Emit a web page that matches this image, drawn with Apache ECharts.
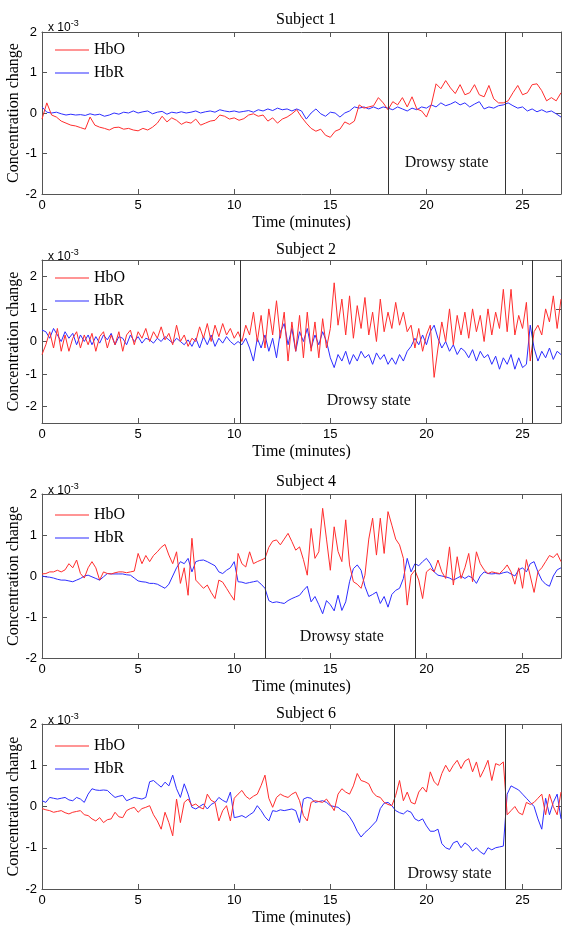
<!DOCTYPE html>
<html><head><meta charset="utf-8">
<script src="https://cdn.jsdelivr.net/npm/echarts@6/dist/echarts.min.js"></script>
<style>html,body{margin:0;padding:0;background:#fff}#c{width:572px;height:936px}</style>
</head><body><div id="c"></div>
<script>
// ---- Data (concentration change, units of 1e-3), sampled every STEP minutes ----
const step1 = 0.25;
const s1_hbo = [-0.15,0.25,-0.05,-0.1,-0.2,-0.25,-0.3,-0.32,-0.36,-0.4,-0.1,-0.3,-0.35,-0.38,-0.42,-0.36,-0.35,-0.4,-0.38,-0.42,-0.44,-0.38,-0.42,-0.35,-0.25,-0.08,-0.22,-0.12,-0.18,-0.28,-0.22,-0.25,-0.15,-0.3,-0.25,-0.2,-0.18,-0.05,-0.08,-0.15,-0.12,-0.18,-0.14,-0.05,-0.02,-0.08,-0.05,-0.2,-0.12,-0.25,-0.15,-0.1,-0.02,0.08,-0.1,-0.25,-0.38,-0.45,-0.4,-0.55,-0.6,-0.45,-0.4,-0.22,-0.28,-0.2,0.2,0.12,0.15,0.18,0.38,0.25,0.08,0.28,0.2,0.38,0.15,0.4,0.1,0.05,-0.1,0.2,0.72,0.6,0.8,0.62,0.48,0.7,0.45,0.5,0.7,0.45,0.4,0.68,0.35,0.25,0.25,0.3,0.5,0.68,0.45,0.5,0.7,0.72,0.55,0.3,0.38,0.3,0.5];
const s1_hbr = [0.15,0.02,0.0,0.02,-0.02,-0.05,-0.03,-0.05,-0.04,-0.06,-0.02,-0.05,-0.03,-0.08,-0.05,0.0,-0.03,0.02,0.0,0.05,0.0,0.03,0.05,-0.02,0.02,0.04,-0.03,0.02,0.0,0.03,0.0,0.02,0.05,0.0,0.03,0.05,0.02,0.08,0.05,0.03,0.05,0.02,0.04,0.06,0.02,0.08,0.05,0.1,0.06,0.12,0.08,0.1,0.05,0.1,0.05,-0.15,0.0,0.1,-0.02,-0.08,0.02,0.0,-0.1,0.0,0.05,0.15,0.12,0.15,0.1,0.15,0.1,0.15,0.12,0.08,0.15,0.1,0.05,0.12,0.08,0.15,0.12,0.2,0.15,0.25,0.18,0.22,0.28,0.2,0.25,0.15,0.22,0.28,0.1,0.15,0.12,0.18,0.2,0.25,0.18,0.12,0.15,0.05,0.1,0.03,0.08,0.02,0.05,-0.02,-0.1];

const step2 = 0.2;
const s2_hbo = [-0.4,-0.1,0.3,-0.2,0.4,-0.3,0.2,-0.3,0.1,0.3,-0.2,
 0.2,-0.1,0.25,-0.3,0.15,0.3,-0.2,0.2,-0.1,0.3,
 -0.3,0.2,0.35,-0.1,0.3,0.1,0.4,0.0,0.3,0.1,
 0.45,0.05,0.25,-0.1,0.5,0.0,0.2,-0.15,0.1,0.0,
 0.45,0.1,0.55,0.0,0.5,0.15,0.55,0.2,0.4,0.1,
 0.3,0.0,0.5,0.2,0.9,0.0,0.8,-0.2,1.0,0.2,
 1.25,0.1,0.9,-0.6,0.6,-0.3,0.8,-0.5,0.9,-0.3,
 0.6,-0.5,0.7,-0.2,0.4,1.8,0.5,1.3,0.2,1.4,
 0.1,1.1,0.4,1.35,0.2,0.9,0.0,1.3,0.3,0.9,
 0.4,1.2,0.5,0.9,0.3,0.5,-0.2,0.4,-0.3,0.2,
 0.5,-1.1,-0.2,0.6,0.0,1.0,-0.1,0.8,0.2,0.9,
 0.1,1.0,0.3,0.8,0.0,1.0,0.2,0.9,0.4,1.6,
 0.3,1.6,0.2,0.8,0.4,1.2,-0.6,0.3,0.5,0.2,
 1.0,0.6,1.4,0.4,1.3];
const s2_hbr = [0.35,0.3,0.1,0.4,0.2,0.0,0.3,0.1,0.25,-0.1,0.2,
 0.0,0.2,-0.1,0.15,-0.05,0.2,0.05,0.25,-0.1,0.15,
 0.1,-0.1,0.2,0.0,0.15,-0.05,0.1,0.05,-0.05,0.1,
 0.0,0.15,0.05,-0.05,0.1,0.0,-0.1,0.05,-0.15,0.1,
 -0.2,0.15,-0.1,0.2,-0.15,0.1,-0.05,0.15,0.0,-0.1,
 0.0,-0.1,0.1,-0.2,-0.6,0.1,-0.2,0.2,-0.3,0.1,
 -0.5,0.3,0.55,-0.1,0.4,-0.3,0.3,0.0,0.4,-0.2,
 0.2,-0.1,0.3,0.0,-0.5,-0.8,-0.4,-0.6,-0.3,-0.7,
 -0.4,-0.6,-0.3,-0.5,-0.4,-0.7,-0.35,-0.55,-0.4,-0.7,
 -0.5,-0.7,-0.4,-0.6,-0.3,-0.15,0.1,-0.1,0.2,-0.1,
 0.3,0.5,0.1,-0.2,0.0,-0.3,-0.1,-0.4,-0.2,-0.3,
 -0.5,-0.25,-0.6,-0.3,-0.5,-0.4,-0.7,-0.45,-0.85,-0.5,
 -0.7,-0.4,-0.85,-0.5,-0.8,-0.7,0.5,-0.2,-0.6,-0.3,
 -0.5,-0.2,-0.55,-0.3,-0.4];

const step3 = 0.2;
const s4_hbo = [0.05,0.06,0.1,0.1,0.14,0.1,0.15,0.3,0.2,0.39,0.06,
 -0.05,0.2,0.35,0.2,-0.1,0.1,0.06,0.05,0.08,0.1,
 0.1,0.08,0.1,0.12,0.55,0.3,0.5,0.35,0.5,0.59,
 0.7,0.77,0.51,0.3,0.59,-0.18,0.2,-0.47,0.92,-0.1,
 -0.2,-0.3,-0.22,-0.4,-0.55,-0.1,-0.15,-0.3,-0.45,-0.59,
 0.55,0.3,0.22,0.59,0.3,0.35,0.39,0.43,0.7,0.85,
 0.88,0.76,0.9,1.04,0.84,0.63,0.71,0.4,0.02,1.16,
 0.43,0.59,1.65,0.9,0.14,1.2,0.6,0.35,1.37,0.27,
 -0.14,-0.2,-0.3,0.02,0.9,1.41,0.51,1.41,0.55,1.57,
 1.24,0.9,0.76,0.43,-0.71,0.02,0.14,-0.1,-0.55,0.1,
 0.18,0.1,0.39,0.1,-0.06,0.71,-0.22,0.47,-0.06,0.2,
 0.55,-0.14,0.59,0.3,0.15,0.06,0.1,0.08,0.06,0.15,
 0.27,0.1,-0.2,0.2,-0.3,0.4,0.0,-0.4,0.1,0.2,
 0.35,0.5,0.45,0.55,0.35];
const s4_hbr = [0.0,-0.02,-0.03,-0.05,-0.08,-0.1,-0.1,-0.12,-0.14,-0.1,-0.06,
 0.0,0.02,-0.02,-0.06,-0.1,-0.02,0.06,0.05,0.05,0.05,
 0.05,0.03,0.02,-0.05,-0.12,-0.14,-0.15,-0.18,-0.18,-0.2,
 -0.25,-0.3,-0.2,0.0,0.2,0.35,0.3,0.43,0.1,0.35,
 0.38,0.39,0.35,0.3,0.25,0.1,0.06,0.14,0.2,0.35,
 -0.14,-0.15,-0.18,-0.16,-0.14,-0.12,-0.2,-0.3,-0.6,-0.65,
 -0.63,-0.65,-0.67,-0.6,-0.55,-0.51,-0.47,-0.35,-0.25,-0.63,
 -0.5,-0.7,-0.92,-0.6,-0.7,-0.85,-0.47,-0.84,-0.63,-0.14,
 0.18,0.27,0.14,-0.25,-0.5,-0.45,-0.39,-0.67,-0.5,-0.76,
 -0.45,-0.35,-0.3,-0.06,0.43,0.1,0.3,0.25,0.35,0.43,
 0.3,0.1,0.02,0.0,-0.02,-0.05,-0.1,-0.05,0.0,-0.06,
 0.0,-0.05,-0.18,0.0,0.1,0.06,0.05,0.06,0.05,0.08,
 0.1,0.05,0.0,0.15,0.2,0.1,0.3,0.35,0.1,-0.1,
 -0.2,-0.25,0.0,0.15,0.2];

const step4 = 0.2;
const s6_hbo = [-0.05,-0.08,-0.1,-0.14,-0.12,-0.1,-0.15,-0.18,-0.14,-0.12,-0.1,
 -0.2,-0.22,-0.3,-0.35,-0.27,-0.39,-0.32,-0.3,-0.14,-0.25,
 -0.27,-0.1,-0.05,-0.02,-0.14,-0.05,-0.02,0.02,-0.2,-0.35,
 -0.55,-0.14,-0.39,-0.71,0.18,-0.39,0.1,0.18,0.02,0.06,
 -0.02,-0.06,0.3,0.15,0.1,-0.35,-0.1,0.02,-0.35,0.2,
 0.3,0.39,0.25,0.18,0.25,0.3,0.51,0.76,0.2,-0.02,
 0.22,0.3,0.25,0.22,0.3,0.35,0.14,-0.22,-0.35,0.1,
 0.14,0.12,0.1,0.18,0.05,-0.1,0.3,0.43,0.35,0.3,
 0.5,0.8,0.63,0.6,0.55,0.35,0.25,0.22,0.1,0.05,
 0.02,0.27,0.63,0.14,0.35,0.1,0.06,0.35,0.47,0.35,
 0.84,0.6,0.51,0.8,1.0,0.84,1.0,1.12,0.92,1.1,
 1.16,0.84,1.08,0.71,0.9,1.12,0.63,1.04,1.0,1.08,
 -0.2,-0.1,0.0,-0.15,-0.2,0.1,0.05,0.1,0.2,0.3,
 -0.2,0.3,0.0,-0.2,0.35];
const s6_hbr = [0.14,0.1,0.22,0.2,0.18,0.2,0.22,0.16,0.14,0.22,0.18,
 0.1,0.3,0.43,0.4,0.39,0.4,0.39,0.3,0.22,0.25,
 0.27,0.14,0.18,0.22,0.2,0.18,0.22,0.6,0.63,0.55,
 0.47,0.59,0.5,0.76,0.43,0.22,0.55,0.3,-0.02,-0.06,
 0.0,0.06,-0.06,0.05,0.1,0.22,0.15,0.1,0.35,-0.27,
 -0.25,-0.22,-0.27,-0.2,-0.14,0.02,-0.1,-0.25,-0.35,-0.1,
 -0.12,-0.08,-0.1,-0.08,-0.06,-0.1,-0.39,0.18,0.22,0.2,
 0.1,0.12,0.14,0.1,0.02,0.0,-0.02,-0.1,-0.14,-0.25,
 -0.4,-0.6,-0.74,-0.63,-0.55,-0.45,-0.35,-0.05,0.08,0.1,
 0.02,-0.1,-0.15,-0.18,-0.1,-0.14,-0.3,-0.35,-0.3,-0.47,
 -0.6,-0.6,-0.55,-0.9,-1.0,-1.04,-0.88,-0.84,-1.0,-0.88,
 -0.95,-1.08,-1.0,-1.1,-1.16,-1.0,-1.05,-1.0,-0.98,-0.96,
 0.3,0.5,0.45,0.4,0.3,0.2,0.1,0.0,-0.3,-0.55,
 0.2,-0.2,0.1,0.3,-0.3];

const titles = ['Subject 1','Subject 2','Subject 4','Subject 6'];
const drowsyBounds = [[18,24.1],[10.3,25.5],[11.6,19.4],[18.3,24.1]];
const drowsyLabelAt = [[21.05,-1.24],[17.0,-1.82],[15.6,-1.48],[21.2,-1.62]];
const yRanges = [[-2,2],[-2.5,2.5],[-2,2],[-2,2]];
const yTicks = [-2,-1,0,1,2];
const xTicks = [0,5,10,15,20,25];
const xMax = 27;

// ---- Layout / style ----
const panels = [
  {hbo:s1_hbo, hbr:s1_hbr, step:step1, top:32, h:162, titleY:7, expY:14, legY:37},
  {hbo:s2_hbo, hbr:s2_hbr, step:step2, top:260, h:163, titleY:237, expY:243, legY:265},
  {hbo:s4_hbo, hbr:s4_hbr, step:step3, top:494, h:164, titleY:469, expY:477, legY:502},
  {hbo:s6_hbo, hbr:s6_hbr, step:step4, top:724, h:165, titleY:701, expY:707, legY:733}
];
const RED = 'rgb(255,45,45)', BLUE = 'rgb(45,45,255)';
const SERIF = "'Liberation Serif','DejaVu Serif',serif";
const SANS = "'Liberation Sans',Arial,sans-serif";
const AX = '#555';

const grid=[], xAxis=[], yAxis=[], series=[], title=[], legend=[];
panels.forEach((p,k)=>{
  grid.push({left:42, width:519, top:p.top, height:p.h, show:false, containLabel:false, outerBoundsMode:'none'});
  const tickCommon = {show:true, inside:true, length:5, lineStyle:{color:AX}};
  xAxis.push({gridIndex:k, type:'value', min:0, max:xMax, position:'bottom',
    axisLine:{show:true, onZero:false, lineStyle:{color:AX}},
    axisTick:Object.assign({customValues:xTicks}, tickCommon),
    axisLabel:{customValues:xTicks, color:'#000', fontFamily:SANS, fontSize:13, margin:5},
    splitLine:{show:false},
    name:'Time (minutes)', nameLocation:'middle', nameGap:21, nameMoveOverlap:false,
    nameTextStyle:{fontFamily:SERIF, fontSize:16, color:'#000'}});
  xAxis.push({gridIndex:k, type:'value', min:0, max:xMax, position:'top',
    axisLine:{show:true, onZero:false, lineStyle:{color:AX}},
    axisTick:Object.assign({customValues:xTicks}, tickCommon),
    axisLabel:{show:false}, splitLine:{show:false}});
  const yr = yRanges[k];
  yAxis.push({gridIndex:k, type:'value', min:yr[0], max:yr[1], position:'left',
    axisLine:{show:true, onZero:false, lineStyle:{color:AX}},
    axisTick:Object.assign({customValues:yTicks}, tickCommon),
    axisLabel:{customValues:yTicks, color:'#000', fontFamily:SANS, fontSize:13, margin:5},
    splitLine:{show:false},
    name:'Concentration change', nameLocation:'middle', nameGap:20, nameMoveOverlap:false,
    nameTextStyle:{fontFamily:SERIF, fontSize:16, color:'#000'}});
  yAxis.push({gridIndex:k, type:'value', min:yr[0], max:yr[1], position:'right',
    axisLine:{show:true, onZero:false, lineStyle:{color:AX}},
    axisTick:Object.assign({customValues:yTicks}, tickCommon),
    axisLabel:{show:false}, splitLine:{show:false}});

  const toPts = arr => arr.map((v,i)=>[+(i*p.step).toFixed(3), v]);
  series.push({name:'HbO', type:'line', xAxisIndex:2*k, yAxisIndex:2*k, data:toPts(p.hbo),
    showSymbol:false, symbol:'none', lineStyle:{color:RED, width:1}, itemStyle:{color:RED},
    z:3, silent:true,
    markLine:{silent:true, symbol:['none','none'], label:{show:false},
      lineStyle:{color:'#333', type:'solid', width:1},
      data:drowsyBounds[k].map(x=>({xAxis:x}))},
    markPoint:{silent:true, symbol:'circle', symbolSize:1, itemStyle:{color:'rgba(0,0,0,0)'},
      label:{show:true, position:'inside', formatter:'Drowsy state', color:'#111', fontFamily:SERIF, fontSize:16},
      data:[{coord:drowsyLabelAt[k]}]}
  });
  series.push({name:'HbR', type:'line', xAxisIndex:2*k, yAxisIndex:2*k, data:toPts(p.hbr),
    showSymbol:false, symbol:'none', lineStyle:{color:BLUE, width:1}, itemStyle:{color:BLUE},
    z:2, silent:true});

  title.push({text:titles[k], left:301, textAlign:'center', top:p.titleY,
    textStyle:{fontFamily:SERIF, fontSize:16, fontWeight:'normal', color:'#000'}});
  title.push({text:'x 10{s|-3}', left:43, top:p.expY,
    textStyle:{fontFamily:SANS, fontSize:12, fontWeight:'normal', color:'#000',
      rich:{s:{fontFamily:SANS, fontSize:9, color:'#000', verticalAlign:'top', padding:[0,0,8,0]}}}});
  legend.push({data:['HbO','HbR'], orient:'vertical', left:50, top:p.legY, itemWidth:34, itemHeight:14,
    itemGap:7, selectedMode:false, icon:'path://M0,7 L34,7 L34,8 L0,8 Z',
    textStyle:{fontFamily:SERIF, fontSize:16, color:'#000'}});
});

const chart = echarts.init(document.getElementById('c'), null, {renderer:'canvas'});
chart.setOption({animation:false, backgroundColor:'#fff', grid, xAxis, yAxis, series, title, legend});
</script>
</body></html>
